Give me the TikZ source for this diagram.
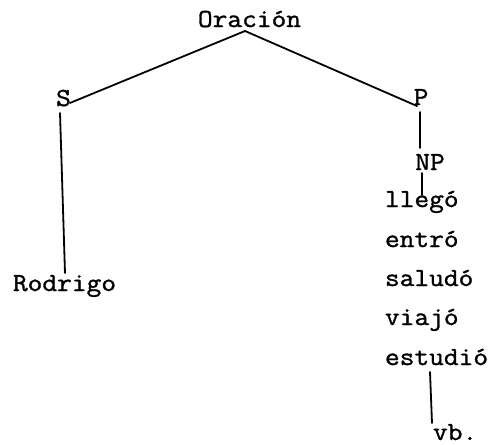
\documentclass[tikz,border=0pt]{standalone}
\usepackage{fontspec}
\newfontfamily\tw{Latin Modern Mono}[FakeStretch=1.1, FakeBold=1.2]
\usetikzlibrary{calc}
\begin{document}
\begin{tikzpicture}[x=1pt,y=-1pt,
  lab/.style={inner sep=0pt, outer sep=0pt, font=\tw\fontsize{26}{30}\selectfont},
  edge/.style={line width=1.8pt, line cap=round}]
\useasboundingbox (0,0) rectangle (496,445);
\node[lab, anchor=base] (or) at (249.5,27) {Oración};
\node[lab, anchor=base] (S) at (63.5,106) {S};
\node[lab, anchor=base] (P) at (421,105) {P};
\node[lab, anchor=base] (NP) at (430,170) {NP};
\node[lab, anchor=base west] (l1) at (385,207) {llegó};
\node[lab, anchor=base west] (l2) at (385,247) {entró};
\node[lab, anchor=base west] (l3) at (385,286) {saludó};
\node[lab, anchor=base west] (l4) at (385,325) {viajó};
\node[lab, anchor=base west] (l5) at (385,365) {estudió};
\node[lab, anchor=base] (rod) at (64.5,291) {Rodrigo};
\node[lab, anchor=base west] (vb) at (433,440) {vb.};
\draw[edge] ($(or.base)+(-4.5,4)$) -- ($(S.base east)+(-1,-3)$);
\draw[edge] ($(or.base)+(-4.5,4)$) -- ($(P.base)+(-4,1)$);
\draw[edge] ($(S.base)+(-3.5,7)$) -- ($(rod.base)+(0.5,-18)$);
\draw[edge] ($(P.base)+(-1,7)$) -- ($(NP.base)+(-10,-22)$);
\draw[edge] ($(NP.base)+(-8,3)$) -- ($(l1.base west)+(37,-12)$);
\draw[edge] ($(l5.base west)+(45,7)$) -- ($(vb.base west)+(-1,-17)$);
\end{tikzpicture}
\end{document}
